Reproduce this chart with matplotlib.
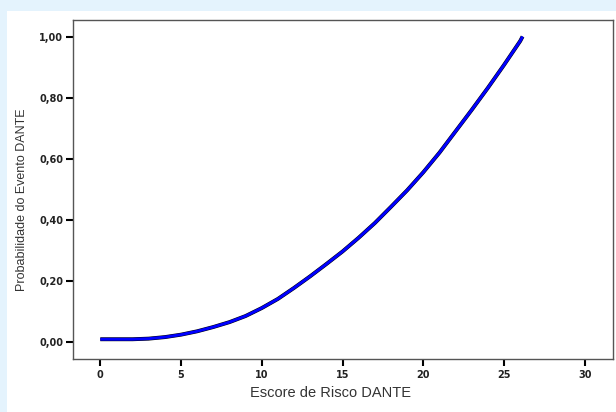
import matplotlib
matplotlib.use('Agg')
import matplotlib.pyplot as plt
from matplotlib.patches import Rectangle

# curve (score -> probability)
score = [0, 1, 2, 3, 4, 5, 6, 7, 8, 9, 10, 11, 12, 13, 14, 15, 16, 17, 18,
         19, 20, 21, 22, 23, 24, 25, 26, 26.15]
prob = [0.010, 0.010, 0.010, 0.012, 0.017, 0.025, 0.036, 0.050, 0.066, 0.086,
        0.112, 0.142, 0.178, 0.216, 0.256, 0.297, 0.342, 0.390, 0.443, 0.497,
        0.556, 0.620, 0.690, 0.760, 0.832, 0.907, 0.985, 1.0]

xticks = [0, 5, 10, 15, 20, 25, 30]
yticks = [0.0, 0.2, 0.4, 0.6, 0.8, 1.0]
ytick_labels = ['0,00', '0,20', '0,40', '0,60', '0,80', '1,00']

plt.rcParams['font.family'] = ['Liberation Sans', 'DejaVu Sans']

fig = plt.figure(figsize=(6.16, 4.12), dpi=100)
fig.patch.set_facecolor('#e4f3fd')
# white panel behind the axes
fig.patches.append(Rectangle((7 / 616, 0), 1, 1 - 11 / 412, transform=fig.transFigure,
                             facecolor='white', edgecolor='none', zorder=-10))

ax = fig.add_axes([73 / 616, 53 / 412, 539.7 / 616, 339 / 412])
ax.set_facecolor('white')

ax.plot(score, prob, color='black', linewidth=2.8, solid_capstyle='butt')
ax.plot(score, prob, color='#0000ff', linewidth=2.1, solid_capstyle='butt')

ax.set_xlim(-1.69, 31.73)
ax.set_ylim(-0.0546, 1.054)
ax.set_xticks(xticks)
ax.set_yticks(yticks)
ax.set_yticklabels(ytick_labels)
ax.tick_params(axis='both', direction='out', length=5, width=1.5, color='black',
               labelsize=7, labelcolor='#222222', pad=2)
ax.tick_params(axis='x', pad=3)
for lab in ax.get_xticklabels() + ax.get_yticklabels():
    lab.set_family('DejaVu Sans')
    lab.set_fontweight('bold')
for sp in ax.spines.values():
    sp.set_color('#555555')
    sp.set_linewidth(1.0)

ax.set_xlabel('Escore de Risco DANTE', fontsize=10.5, color='#333333')
ax.set_ylabel('Probabilidade do Evento DANTE', fontsize=9, color='#333333')
ax.xaxis.set_label_coords((331 - 73) / 539.7, -(393 - 359) / 339)
ax.yaxis.set_label_coords(-(73 - 22) / 539.7, (359 - 200) / 339)
ax.xaxis.label.set_va('center')
ax.yaxis.label.set_va('center')

fig.savefig('out.png', dpi=100, facecolor=fig.get_facecolor())
